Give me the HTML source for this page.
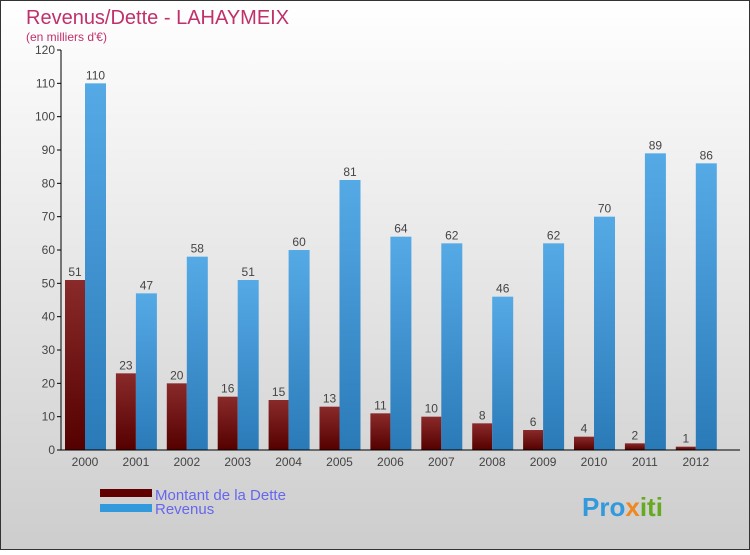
<!DOCTYPE html>
<html><head><meta charset="utf-8"><style>
body{margin:0;}
#c{width:750px;height:550px;position:relative;}
svg text{font-family:"Liberation Sans",sans-serif;}
</style></head><body>
<div id="c">
<svg id="s" width="750" height="550" xmlns="http://www.w3.org/2000/svg">
<defs>
<linearGradient id="bg" x1="0" y1="0" x2="0" y2="1"><stop offset="0" stop-color="#ffffff"/><stop offset="1" stop-color="#cdcdcd"/></linearGradient>
<linearGradient id="gd" x1="0" y1="0" x2="0" y2="1"><stop offset="0" stop-color="#8a2a2a"/><stop offset="1" stop-color="#550000"/></linearGradient>
<linearGradient id="gr" x1="0" y1="0" x2="0" y2="1"><stop offset="0" stop-color="#55aae6"/><stop offset="1" stop-color="#2a7ab8"/></linearGradient>
</defs>
<rect x="0.5" y="0.5" width="749" height="549" fill="url(#bg)" stroke="#333"/>
<text x="26" y="24" font-size="20" fill="#c0306a">Revenus/Dette - LAHAYMEIX</text>
<text x="26" y="41" font-size="12" fill="#c0306a">(en milliers d'€)</text>
<g id="plot"></g>
<rect x="100" y="489" width="52" height="8" fill="#600000"/>
<text x="155" y="500" font-size="15" fill="#6666ee">Montant de la Dette</text>
<rect x="100" y="504" width="52" height="8" fill="#3399dd"/>
<text x="155" y="514" font-size="15" fill="#6666ee">Revenus</text>
<text x="582" y="516" font-size="26" font-weight="bold" fill="#3399dd">Pro<tspan fill="#ee8822">x</tspan><tspan fill="#66aa22">iti</tspan></text>
</svg></div>
<script>
const years=["2000","2001","2002","2003","2004","2005","2006","2007","2008","2009","2010","2011","2012"];
const debt=[51,23,20,16,15,13,11,10,8,6,4,2,1];
const revenue=[110,47,58,51,60,81,64,62,46,62,70,89,86];
const yTicks=[0,10,20,30,40,50,60,70,80,90,100,110,120];
const NS="http://www.w3.org/2000/svg";
const g=document.getElementById('plot');
const y=v=>450-v*400/120;
const x=i=>85+i*50.9;
function el(t,a){const e=document.createElementNS(NS,t);for(const k in a)e.setAttribute(k,a[k]);g.appendChild(e);return e;}
yTicks.forEach(v=>{
 const t=el('line',{x1:57,x2:61,y1:y(v),y2:y(v),stroke:'#000'});
 
 
 const l=el('text',{x:55,y:y(v)+4,'font-size':12,'text-anchor':'end',fill:'#444'});l.textContent=v;
 
 
});
years.forEach((yr,i)=>{
 const cx=x(i);
 const b1=el('rect',{x:cx-20,y:y(debt[i]),width:20,height:450-y(debt[i]),fill:'url(#gd)'});
 
 
 const b2=el('rect',{x:cx,y:y(revenue[i]),width:21,height:450-y(revenue[i]),fill:'url(#gr)'});
 
 
 const t1=el('text',{x:cx-10,y:y(debt[i])-4,'font-size':12,'text-anchor':'middle',fill:'#444'});t1.textContent=debt[i];
 
 
 const t2=el('text',{x:cx+10.5,y:y(revenue[i])-4,'font-size':12,'text-anchor':'middle',fill:'#444'});t2.textContent=revenue[i];
 
 
 const xl=el('text',{x:cx,y:466,'font-size':12,'text-anchor':'middle',fill:'#444'});xl.textContent=yr;
 
 
});
const ax=el('line',{x1:61,x2:61,y1:50,y2:450,stroke:'#000'});


const bx=el('line',{x1:61,x2:740,y1:450,y2:450,stroke:'#000'});


</script>
</body></html>
